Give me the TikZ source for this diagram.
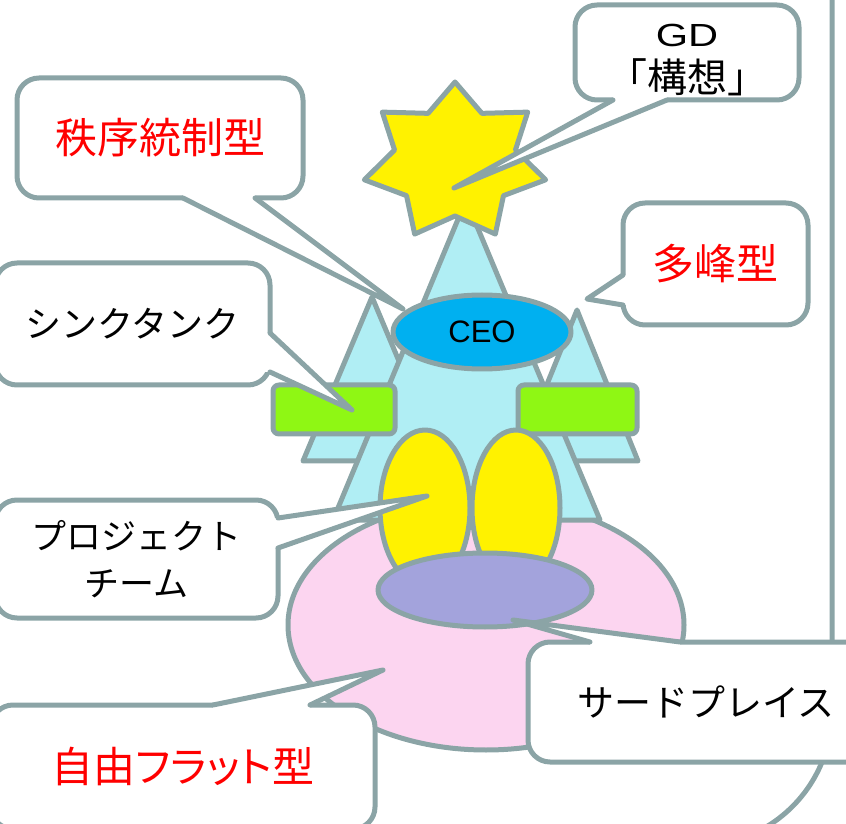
\documentclass[tikz,border=0pt]{standalone}
\usepackage{fontspec}
\setmainfont{Noto Sans CJK JP}
\newfontfamily\propfont[RawFeature=+palt]{Noto Sans CJK JP}
\newfontfamily\latinsans{Liberation Sans}
\newfontfamily\widesans[FakeStretch=1.3]{Liberation Sans}
\usetikzlibrary{shapes.geometric,calc}

\definecolor{rimgray}{HTML}{8BA4A6}
\definecolor{iceblue}{HTML}{B0EEF4}
\definecolor{ceoblue}{HTML}{00B0F0}
\definecolor{thinkgreen}{HTML}{8FF714}
\definecolor{podpink}{HTML}{FCD5F0}
\definecolor{plazaviolet}{HTML}{A3A3DC}

% tail of a speech bubble: tip, two base points, shift into the box
\newcommand{\bubbletail}[4]{%
  \fill[white] (#2) -- (#1) -- (#3) -- ($(#3)+(#4)$) -- ($(#2)+(#4)$) -- cycle;
  \draw[rim] (#2) -- (#1) -- (#3);}

\begin{document}
\begin{tikzpicture}[x=1pt, y=1pt,
    rim/.style={draw=rimgray, line width=5pt, line join=round, line cap=round},
    bubble/.style={rim, fill=white, rounded corners=22pt, outer sep=0pt, inner sep=0pt, align=center},
    blob/.style={rim, ellipse, inner sep=0pt, outer sep=0pt}]
    \useasboundingbox (0,0) rectangle (846,823);
    \clip (0,0) rectangle (846,823);

    % outer frame
    \draw[rim] (832,830) -- (832,112) arc[start angle=0, end angle=-90, radius=135];

    % flat layer
    \node[blob, fill=podpink, minimum width=396pt, minimum height=250pt] (flatpod) at (486,198) {};

    % peaks
    \draw[rim, fill=iceblue] (372,526) -- (441,362) -- (303,362) -- cycle;
    \draw[rim, fill=iceblue] (577,513) -- (638,362) -- (516,362) -- cycle;
    \draw[rim, fill=iceblue] (466,623) -- (600,303) -- (333,303) -- cycle;

    \node[rim, fill=thinkgreen, rounded corners=6pt, inner sep=0pt, minimum width=122pt, minimum height=49pt] (tankL) at (334,413.5) {};
    \node[rim, fill=thinkgreen, rounded corners=6pt, inner sep=0pt, minimum width=119pt, minimum height=49pt] (tankR) at (577.5,413.5) {};

    \node[blob, fill=ceoblue, minimum width=178pt, minimum height=74pt, font=\latinsans\fontsize{31}{31}\selectfont] (ceo) at (482,491) {CEO};

    \node[blob, fill=yellow, minimum width=90pt, minimum height=156pt] (teamL) at (425,315) {};
    \node[blob, fill=yellow, minimum width=88pt, minimum height=156pt] (teamR) at (516,315) {};
    \node[blob, fill=plazaviolet, minimum width=214pt, minimum height=74pt] (plaza) at (485,233) {};

    % vision star
    \begin{scope}[shift={(455,661)}]
        \draw[rim, fill=yellow] (90:93 and 80)
            \foreach \k in {1,...,6} { -- ({90+\k*360/7-180/7}:62 and 54) -- ({90+\k*360/7}:93 and 80) }
            -- ({90-180/7}:62 and 54) -- cycle;
    \end{scope}

    % bubbles
    \coordinate (gdtip) at (454,635);
    \coordinate (ordertip) at (403,514);
    \coordinate (tanktip) at (352,413);
    \coordinate (teamtip) at (427,327);
    \coordinate (peaktip) at (587,524);
    \coordinate (placetip) at (513,203);
    \coordinate (flattip) at (383,153);

    \node[bubble, minimum width=224pt, minimum height=95pt, text height=86pt, text depth=5pt, font=\fontsize{40}{46}\selectfont] (gdbox) at (687,770.5) {{\widesans\fontsize{32}{46}\selectfont GD}\\「構想」};
    \bubbletail{gdtip}{613,723}{667,723}{0,8}

    \node[bubble, minimum width=286pt, minimum height=120pt, text=red, font=\fontsize{42}{50}\selectfont] (orderbox) at (160,685) {秩序統制型};
    \bubbletail{ordertip}{183,625}{255,625}{0,8}

    \node[bubble, minimum width=275pt, minimum height=122pt, font=\fontsize{36}{44}\selectfont] (tankbox) at (132.5,499) {シンクタンク};
    \bubbletail{tanktip}{270,490}{270,451}{-8,0}

    \node[bubble, minimum width=283pt, minimum height=118pt, font=\fontsize{35}{47}\selectfont] (teambox) at (136.5,264) {プロジェクト\\チーム};
    \bubbletail{teamtip}{278,305}{278,275}{-8,0}

    \node[bubble, minimum width=185pt, minimum height=122pt, text=red, font=\fontsize{42}{50}\selectfont] (peakbox) at (715.5,559) {多峰型};
    \bubbletail{peaktip}{623,548}{623,518}{8,0}

    \node[bubble, minimum width=356pt, minimum height=120pt, font=\fontsize{37}{44}\selectfont] (placebox) at (706,121) {サードプレイス};
    \bubbletail{placetip}{590,181}{680,181}{0,-8}

    \node[bubble, minimum width=384pt, minimum height=124pt, text=red, font=\propfont\fontsize{42}{50}\selectfont] (flatbox) at (183,56) {自由フラット型};
    \bubbletail{flattip}{213,118}{310,118}{0,-8}
\end{tikzpicture}
\end{document}
